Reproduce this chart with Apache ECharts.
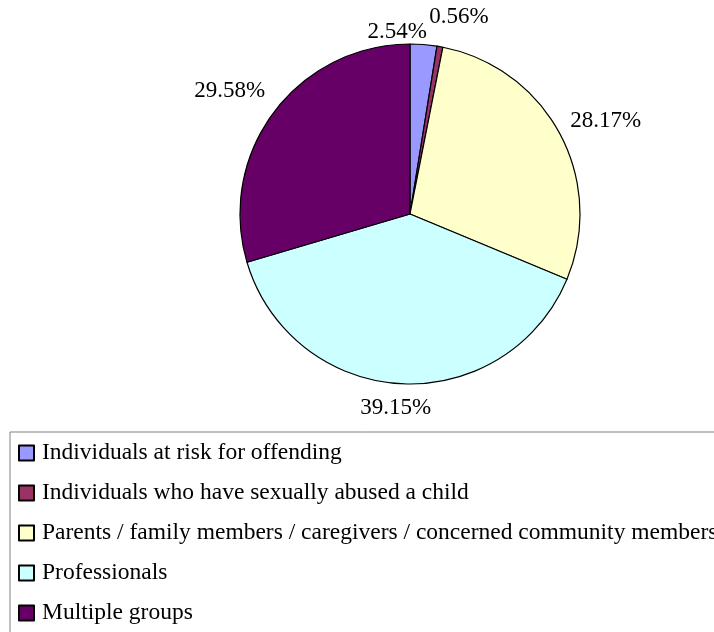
<!DOCTYPE html>
<html><head><meta charset="utf-8">
<script src="https://cdn.jsdelivr.net/npm/echarts@6/dist/echarts.min.js"></script>
<style>html,body{margin:0;padding:0;background:#fff}#c{width:714px;height:632px}</style>
</head><body><div id="c"></div>
<script>
const categories = [
  "Individuals at risk for offending",
  "Individuals who have sexually abused a child",
  "Parents / family members / caregivers / concerned community members",
  "Professionals",
  "Multiple groups"
];
const values = [2.54, 0.56, 28.17, 39.15, 29.58];
const colors = ["#9999FF", "#993366", "#FFFFCC", "#CCFFFF", "#660066"];
const labelShiftX = [-30, 11, 6, -3, -8];
const labelShiftY = [32, 15, 8, -21, 6];

const chart = echarts.init(document.getElementById('c'), null, {renderer: 'canvas'});
chart.setOption({
  backgroundColor: '#fff',
  animation: false,
  legend: {
    orient: 'vertical',
    left: 10, top: 432, height: 400,
    padding: [9, 40, 40, 8],
    borderColor: '#808080', borderWidth: 1,
    itemWidth: 15, itemHeight: 15, itemGap: 16,
    icon: 'rect',
    selectedMode: false,
    textStyle: {fontFamily: 'Liberation Serif', fontSize: 23.5, color: '#000', lineHeight: 20, padding: [0,0,0,3]},
    data: categories
  },
  series: [{
    type: 'pie',
    center: [410, 214],
    radius: 170,
    startAngle: 90,
    clockwise: true,
    avoidLabelOverlap: false,
    silent: true,
    itemStyle: {borderColor: '#000', borderWidth: 1.2},
    label: {
      show: true, position: 'outside', distanceToLabelLine: 0,
      formatter: p => p.value.toFixed(2) + '%',
      fontFamily: 'Liberation Serif', fontSize: 23, color: '#000'
    },
    labelLine: {show: false, length: 45, length2: 0},
    labelLayout: p => ({align: 'center', verticalAlign: 'middle', dx: labelShiftX[p.dataIndex], dy: labelShiftY[p.dataIndex]}),
    data: categories.map((n, i) => ({name: n, value: values[i], itemStyle: {color: colors[i]}}))
  }]
});
</script></body></html>
